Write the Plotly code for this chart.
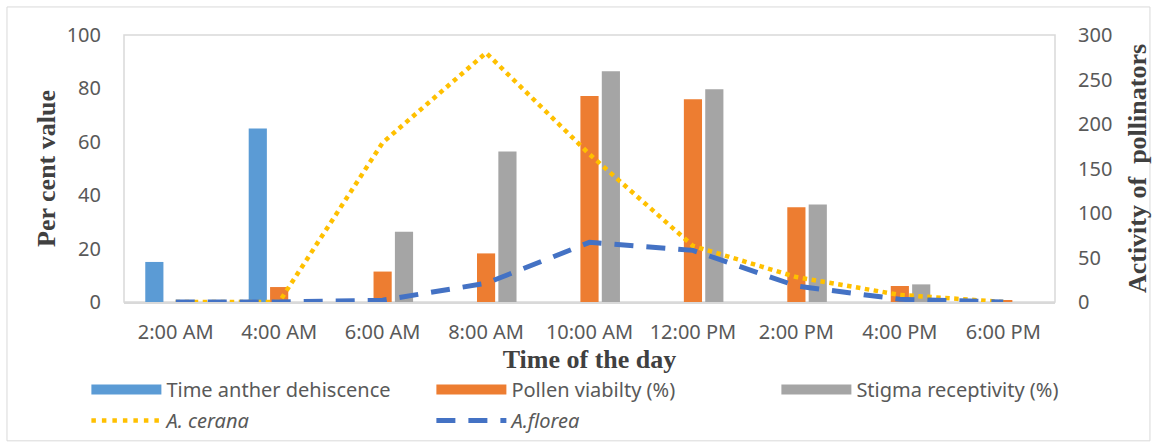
import plotly.graph_objects as go

times = ["2:00 AM", "4:00 AM", "6:00 AM", "8:00 AM", "10:00 AM", "12:00 PM", "2:00 PM", "4:00 PM", "6:00 PM"]
anther_dehiscence = [15, 65, 0, 0, 0, 0, 0, 0, 0]
pollen_viability = [0, 5.6, 11.4, 18.2, 77.2, 75.9, 35.5, 6, 0.7]
stigma_receptivity = [0, 0, 26.3, 56.4, 86.4, 79.7, 36.5, 6.6, 0]
a_cerana = [0, 0, 179, 280, 166, 63, 28, 8, 0]
a_florea = [0, 0, 2, 21, 67, 58, 18, 3, 0]

BLUE = "#5B9BD5"
ORANGE = "#ED7D31"
GRAY = "#A5A5A5"
YELLOW = "#FFC000"
DBLUE = "#4472C4"
TICK = "#595959"
TITLE = "#404040"
FONT = "Noto Sans"
SERIF = "Liberation Serif"

fig = go.Figure()
bars = [("Time anther dehiscence", anther_dehiscence, BLUE, "g1"),
        ("Pollen viabilty (%)", pollen_viability, ORANGE, "g2"),
        ("Stigma receptivity (%)", stigma_receptivity, GRAY, "g3")]
for name, vals, col, grp in bars:
    fig.add_trace(go.Bar(x=times, y=vals, name=name, marker_color=col,
                         marker_line_width=0, showlegend=False, legendgroup=grp))

fig.add_trace(go.Scatter(x=times, y=a_cerana, name="<i>A. cerana</i>", yaxis="y2",
                         mode="lines", line=dict(color=YELLOW, width=4.5, dash="4.5px,4.5px"),
                         showlegend=False, legendgroup="g4"))
fig.add_trace(go.Scatter(x=times, y=a_florea, name="<i>A.florea</i>", yaxis="y2",
                         mode="lines", line=dict(color=DBLUE, width=5, dash="19px,13px"),
                         showlegend=False, legendgroup="g5"))

# legend entries (swatches)
for name, vals, col, grp in bars:
    fig.add_trace(go.Scatter(x=[None], y=[None], name=name, mode="lines",
                             line=dict(color=col, width=15), legendgroup=grp))
fig.add_trace(go.Scatter(x=[None], y=[None], name="<i>A. cerana</i>", mode="lines",
                         line=dict(color=YELLOW, width=4.5, dash="4.5px,6px"), legendgroup="g4"))
fig.add_trace(go.Scatter(x=[None], y=[None], name="<i>A.florea</i>", mode="lines",
                         line=dict(color=DBLUE, width=5, dash="19px,13px"), legendgroup="g5"))

fig.update_layout(
    width=1157, height=444,
    margin=dict(l=124, r=102, t=35, b=142, autoexpand=False),
    paper_bgcolor="white", plot_bgcolor="white",
    barmode="group", bargap=0.38, bargroupgap=0.15,
    font=dict(family=FONT, color=TICK, size=20),
    xaxis=dict(type="category", showgrid=False, showline=True, linecolor="#D9D9D9", linewidth=2,
               ticks="outside", ticklen=11, tickcolor="rgba(0,0,0,0)", automargin=False,
               tickfont=dict(size=20, color=TICK),
               title=dict(text="<b>Time of the day</b>", standoff=0,
                          font=dict(family=SERIF, size=26, color=TITLE))),
    yaxis=dict(range=[0, 100], tickvals=[0, 20, 40, 60, 80, 100], showgrid=False, zeroline=False,
               ticks="outside", ticklen=18, tickcolor="rgba(0,0,0,0)", automargin=False,
               tickfont=dict(size=20, color=TICK),
               title=dict(text="<b>Per cent value</b>", standoff=3,
                          font=dict(family=SERIF, size=26, color=TITLE))),
    yaxis2=dict(range=[0, 300], tickvals=[0, 50, 100, 150, 200, 250, 300], overlaying="y", side="right",
                showgrid=False, zeroline=False, automargin=False,
                ticks="outside", ticklen=18, tickcolor="rgba(0,0,0,0)",
                tickfont=dict(size=20, color=TICK),
                title=dict(text="<b>Activity of\u00a0 pollinators</b>", standoff=16,
                           font=dict(family=SERIF, size=26, color=TITLE))),
    legend=dict(orientation="h", x=-0.0404, y=-0.255, xanchor="left", yanchor="top",
                itemwidth=70, entrywidth=260, entrywidthmode="pixels", tracegroupgap=2,
                font=dict(size=20, color=TICK), bgcolor="rgba(0,0,0,0)",
                itemclick="toggle", itemdoubleclick="toggleothers"),
    shapes=[
        dict(type="rect", xref="paper", yref="paper", x0=0, x1=1, y0=0, y1=1,
             line=dict(color="#D9D9D9", width=1.5), layer="below"),
        dict(type="rect", xref="paper", yref="paper", x0=-0.1257, x1=1.102, y0=-0.52, y1=1.105,
             line=dict(color="#D9D9D9", width=1), layer="below"),
    ],
)

fig.write_html("out.html")
